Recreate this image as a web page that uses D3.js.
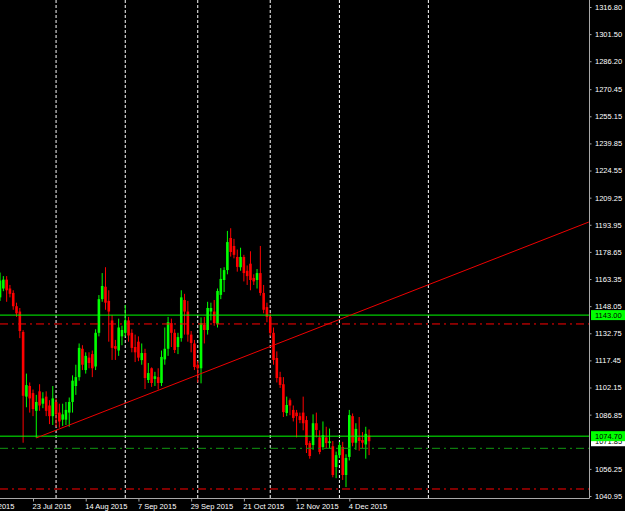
<!DOCTYPE html>
<html><head><meta charset="utf-8">
<script src="https://cdn.jsdelivr.net/npm/d3@7/dist/d3.min.js"></script>
<style>html,body{margin:0;padding:0;background:#000;overflow:hidden}</style>
</head><body>
<svg id="chart" width="625" height="511"></svg>
<script>
// ---- data (XAUUSD daily, Jul–Dec 2015) ----
const dates = [
"2015-07-09","2015-07-10","2015-07-13","2015-07-14","2015-07-15","2015-07-16","2015-07-17","2015-07-20","2015-07-21","2015-07-22",
"2015-07-23","2015-07-24","2015-07-27","2015-07-28","2015-07-29","2015-07-30","2015-07-31",
"2015-08-03","2015-08-04","2015-08-05","2015-08-06","2015-08-07","2015-08-10","2015-08-11","2015-08-12","2015-08-13","2015-08-14",
"2015-08-17","2015-08-18","2015-08-19","2015-08-20","2015-08-21","2015-08-24","2015-08-25","2015-08-26","2015-08-27","2015-08-28","2015-08-31",
"2015-09-01","2015-09-02","2015-09-03","2015-09-04","2015-09-07","2015-09-08","2015-09-09","2015-09-10","2015-09-11","2015-09-14","2015-09-15",
"2015-09-16","2015-09-17","2015-09-18","2015-09-21","2015-09-22","2015-09-23","2015-09-24","2015-09-25","2015-09-28","2015-09-29","2015-09-30",
"2015-10-01","2015-10-02","2015-10-05","2015-10-06","2015-10-07","2015-10-08","2015-10-09","2015-10-12","2015-10-13","2015-10-14","2015-10-15",
"2015-10-16","2015-10-19","2015-10-20","2015-10-21","2015-10-22","2015-10-23","2015-10-26","2015-10-27","2015-10-28","2015-10-29","2015-10-30",
"2015-11-02","2015-11-03","2015-11-04","2015-11-05","2015-11-06","2015-11-09","2015-11-10","2015-11-11","2015-11-12","2015-11-13","2015-11-16",
"2015-11-17","2015-11-18","2015-11-19","2015-11-20","2015-11-23","2015-11-24","2015-11-25","2015-11-26","2015-11-27","2015-11-30",
"2015-12-01","2015-12-02","2015-12-03","2015-12-04","2015-12-07","2015-12-08","2015-12-09","2015-12-10","2015-12-11","2015-12-14"];

const opens = [1153,1158,1163,1158,1155.5,1148,1145,1133.5,1097,1103,
1099,1089,1100,1093,1097,1092,1086,
1094,1088,1084,1084,1088,1094,1103,1108,1124,1112,
1119,1121,1114,1133,1152,1159,1151,1140,1125.5,1123,1131,
1133,1140,1133,1125,1128,1117.6,1121.6,1106.4,1113,1107,1108,
1104.7,1118,1124,1138.5,1133,1125,1130,1151.5,1145,1132,1127,
1115,1113,1137.5,1134.6,1145,1145,1138,1154.4,1162.8,1168.4,1186.5,
1182,1175.8,1170,1175.8,1168,1172,1164,1162.8,1166.7,1155.5,1147.5,
1142,1133,1118.8,1108,1104,1087.8,1095,1089.5,1088,1086,1088,
1083.8,1070.8,1069.7,1082,1074,1068.6,1074,1070.8,1069,1057.3,
1064,1068.6,1052.8,1063,1086,1071,1074,1072.5,1070,1075];

const highs = [1167,1165,1165,1160,1157,1150,1147,1134.5,1110,1105,
1101,1098,1104,1099.5,1100,1095,1103,
1096,1093,1093,1094,1096.5,1109,1115,1127,1126,1122,
1122,1123,1135,1154.3,1166.7,1170,1157,1143,1129,1141,1137,
1148.7,1142,1135,1132,1131,1127,1124,1116,1113.5,1111,1113,
1123,1136,1142,1141,1135,1133,1157,1155,1151,1134,1129,
1117,1141.7,1142,1150.5,1150,1151.5,1158,1169.5,1170,1190.5,1192,
1186,1180,1181,1177,1171,1179,1166,1169,1182,1160,1150,
1144,1136,1122.5,1111,1108,1097,1096,1092,1089.5,1088,1097,
1086,1072,1087,1088,1078,1083,1080,1079,1072,1066,
1071.4,1071.5,1064.5,1089.5,1087.5,1082,1085.5,1077,1080,1078.5];

const lows = [1151,1156.5,1150.5,1153,1146,1142,1130,1071,1091,1088,
1086,1073.7,1089,1090.5,1086,1081.5,1081,
1080,1079.5,1080.5,1081,1080,1088,1098,1106,1112,1110,
1113,1108,1112,1131,1150.5,1146,1128,1117.7,1117.7,1120,1126,
1131,1128,1122,1116.5,1117,1115,1101.3,1104.7,1102.5,1103,1101,
1103,1115,1120,1125,1121.6,1121,1128,1132,1128,1122,1112,
1105,1104.5,1127,1132,1140,1137,1136,1152,1156,1166,1176,
1175,1167.5,1168,1162,1160,1157,1160,1158,1154,1144,1139,
1131,1115,1105,1101.9,1085.5,1086,1086.5,1083,1074,1082,1078,
1065.2,1062,1067,1074,1064.5,1067,1068,1068,1051.5,1051,
1062.4,1050,1046,1061,1069,1067,1066.5,1068,1062,1064];

const closes = [1162.5,1163,1157,1155,1148,1144,1134,1097.5,1103.5,1096,
1090,1094,1092,1096,1089,1086,1096,
1087,1083,1087,1089.5,1094,1106,1108,1124.5,1115,1120,
1116,1113,1133,1152,1159.4,1150,1145,1124.5,1124,1136,1134.6,
1140,1131.5,1124.5,1122,1119,1121.6,1107.5,1110.3,1104.7,1108.5,1104.7,
1119.4,1124,1139,1133,1123.3,1130.6,1153,1145,1132,1127.3,1113.7,
1113,1138.5,1134.6,1147,1147,1138.5,1156.6,1163.4,1168.4,1184.2,1178.6,
1177,1170.2,1175.8,1166.7,1165,1162.8,1162,1166.7,1155.5,1146,1142,
1133,1117.7,1107.5,1103.6,1088.3,1092.3,1092,1085,1086,1083.8,1082,
1069.7,1063.5,1082,1078.2,1065.8,1075.3,1070.8,1071.8,1052.8,1064,
1069.7,1052.8,1062.4,1086.6,1071,1078.8,1072,1071,1076,1071.85];

// time axis: bar numbers of the labels and their text
const timeTickBars = [-6, 10, 26, 42, 58, 74, 90, 106];
const timeTickLabels = ["1 Jul 2015","23 Jul 2015","14 Aug 2015","7 Sep 2015","29 Sep 2015","21 Oct 2015","12 Nov 2015","4 Dec 2015"];
// monthly period separators (bar numbers; last one lies in the empty future area)
const separatorBars = [17, 38, 60, 82, 103, 130];
// price axis tick labels (1071.55 is hidden under the price boxes in the reference)
const priceTicks = [1316.80,1301.50,1286.20,1270.45,1255.15,1239.85,1224.55,1209.25,1193.95,1178.65,
1163.35,1148.05,1132.75,1117.45,1102.15,1086.85,1056.25,1040.95];
// horizontal objects
const solidLevels = [1143.00, 1074.70];
const redDashLevels = [1138.00, 1044.90];
const greenDashLevels = [1067.85];
// trend line anchors [bar, price]
const trendBars = [11, 178.7];
const trendPrices = [1073.7, 1195.5];
const bidPrice = closes[closes.length - 1];

// ---- drawing ----
const svg = d3.select("#chart");
const plotR = 589.5, plotB = 498.5;
const font = "'Liberation Sans', Arial, sans-serif";

const x = d3.scaleLinear().domain([10, 106]).range([33, 349.3]);
const y = d3.scaleLinear().domain([1040.95, 1316.80]).range([496, 7]);

svg.append("rect").attr("width", 625).attr("height", 511).attr("fill", "#000");

svg.append("defs").append("clipPath").attr("id", "plot")
  .append("rect").attr("x", 0).attr("y", 0).attr("width", plotR).attr("height", plotB);

const g = svg.append("g").attr("clip-path", "url(#plot)");

// separators
g.selectAll("line.sep").data(separatorBars).join("line")
  .attr("x1", d => x(d)).attr("x2", d => x(d))
  .attr("y1", 0).attr("y2", plotB)
  .attr("stroke", "#ffffff").attr("stroke-width", 1).attr("stroke-dasharray", "3,2");

// candles
const idx = d3.range(dates.length);
const bw = 2.6;
g.selectAll("line.wick").data(idx).join("line")
  .attr("x1", k => x(k)).attr("x2", k => x(k))
  .attr("y1", k => y(highs[k])).attr("y2", k => y(lows[k]))
  .attr("stroke", k => closes[k] >= opens[k] ? "#00ff00" : "#ff0000")
  .attr("stroke-width", 1);
g.selectAll("rect.body").data(idx).join("rect")
  .attr("x", k => x(k) - bw / 2).attr("width", bw)
  .attr("y", k => y(Math.max(opens[k], closes[k])))
  .attr("height", k => Math.max(1, Math.abs(y(opens[k]) - y(closes[k]))))
  .attr("fill", k => closes[k] >= opens[k] ? "#00ff00" : "#ff0000");

// horizontal lines
g.selectAll("line.solid").data(solidLevels).join("line")
  .attr("x1", 0).attr("x2", plotR).attr("y1", d => y(d)).attr("y2", d => y(d))
  .attr("stroke", "#00ff00").attr("stroke-width", 1);
g.selectAll("line.rdash").data(redDashLevels).join("line")
  .attr("x1", 0).attr("x2", plotR).attr("y1", d => y(d)).attr("y2", d => y(d))
  .attr("stroke", "#ff0000").attr("stroke-width", 1).attr("stroke-dasharray", "8,4,2,4");
g.selectAll("line.gdash").data(greenDashLevels).join("line")
  .attr("x1", 0).attr("x2", plotR).attr("y1", d => y(d)).attr("y2", d => y(d))
  .attr("stroke", "#119911").attr("stroke-width", 1).attr("stroke-dasharray", "8,4,2,4");

// trend line
g.append("line")
  .attr("x1", x(trendBars[0])).attr("y1", y(trendPrices[0]))
  .attr("x2", x(trendBars[1])).attr("y2", y(trendPrices[1]))
  .attr("stroke", "#ee0000").attr("stroke-width", 1);

// axes
const axisCol = "#a8a8a8";
const yAxis = d3.axisRight(y).tickValues(priceTicks).tickSize(2).tickPadding(3.5)
  .tickFormat(d3.format(".2f"));
const ya = svg.append("g").attr("transform", `translate(${plotR},0)`).call(yAxis);
ya.select(".domain").remove();
ya.selectAll("line").attr("stroke", axisCol);
ya.selectAll("text").attr("fill", "#fff").attr("font-size", "7.5px").attr("font-family", font);

const xAxis = d3.axisBottom(x).tickValues(timeTickBars).tickSize(3).tickPadding(2.5)
  .tickFormat((d, i) => timeTickLabels[i]);
const xa = svg.append("g").attr("transform", `translate(0,${plotB})`).call(xAxis);
xa.select(".domain").remove();
xa.selectAll("line").attr("stroke", axisCol);
xa.selectAll("text").attr("fill", "#fff").attr("font-size", "7.5px").attr("font-family", font)
  .attr("text-anchor", "start").attr("x", -1);

// frame lines
svg.append("line").attr("x1", plotR).attr("x2", plotR).attr("y1", 0).attr("y2", plotB)
  .attr("stroke", axisCol).attr("stroke-width", 1);
svg.append("line").attr("x1", 0).attr("x2", plotR).attr("y1", plotB).attr("y2", plotB)
  .attr("stroke", axisCol).attr("stroke-width", 1);

// bid label (white) then level labels (green) on top
function priceLabel(p, fill) {
  const cy = y(p);
  svg.append("rect").attr("x", 591).attr("y", cy - 5).attr("width", 34).attr("height", 10).attr("fill", fill);
  svg.append("text").attr("x", 595).attr("y", cy).attr("dy", "0.34em")
    .attr("font-size", "7.5px").attr("font-family", font).attr("fill", "#000")
    .text(d3.format(".2f")(p));
}
priceLabel(bidPrice, "#ffffff");
solidLevels.forEach(p => priceLabel(p, "#00ff00"));
</script>
</body></html>
